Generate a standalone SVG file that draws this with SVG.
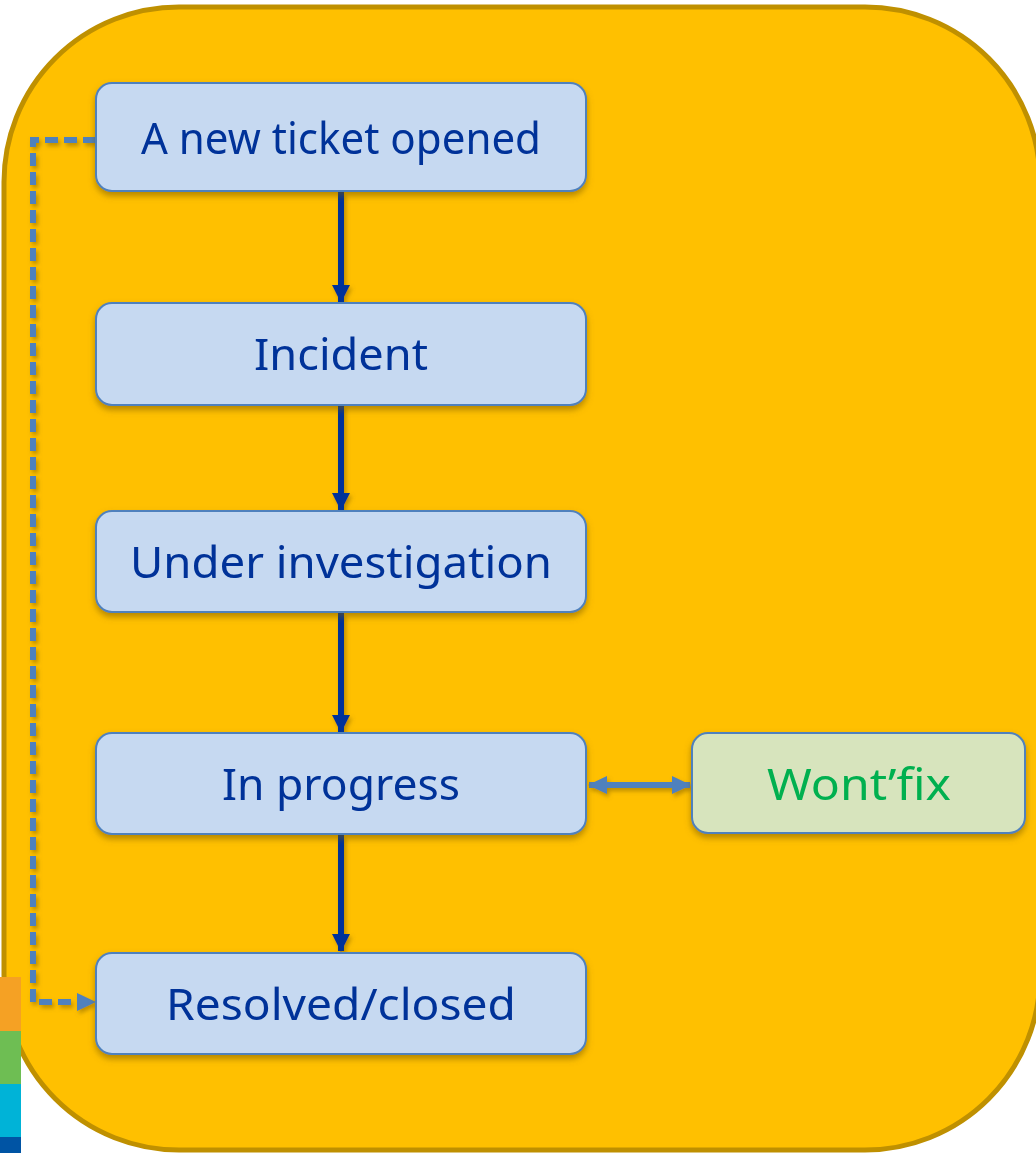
<svg xmlns="http://www.w3.org/2000/svg" width="1036" height="1153" viewBox="0 0 1036 1153">
<style>
.node{fill:#C6D9F1;stroke:#4F81BD;stroke-width:2}
.wf{fill:#D7E4BD;stroke:#4F81BD;stroke-width:2}
.lbl{font-family:"Noto Sans","Open Sans",sans-serif;font-size:43px;fill:#003399;text-anchor:middle}
.green{fill:#00B050}
.main{stroke:#003399;stroke-width:6;fill:none}
.side{stroke:#4F81BD;stroke-width:6;fill:none}
</style>
<defs>
<filter id="sh" x="-10%" y="-20%" width="120%" height="150%">
<feDropShadow dx="0" dy="4" stdDeviation="3" flood-color="#7a5a00" flood-opacity="0.55"/>
</filter>
<filter id="lsh" x="-20%" y="-20%" width="140%" height="140%">
<feDropShadow dx="2" dy="3" stdDeviation="2" flood-color="#7a5a00" flood-opacity="0.5"/>
</filter>
<marker id="ah" markerWidth="18" markerHeight="18" refX="17" refY="9" orient="auto" markerUnits="userSpaceOnUse">
<path d="M0,0 L18,9 L0,18 Z" fill="#003399"/>
</marker>
<marker id="ahs" markerWidth="19" markerHeight="18" refX="18" refY="9" orient="auto-start-reverse" markerUnits="userSpaceOnUse">
<path d="M0,0 L19,9 L0,18 Z" fill="#4F81BD"/>
</marker>
</defs>
<rect id="frame" x="4" y="7" width="1036" height="1143" rx="175" ry="175" fill="#FFC000" stroke="#BF9000" stroke-width="5"/>
<g id="connectors" filter="url(#lsh)">
<path class="main" d="M341,192 V302" marker-end="url(#ah)"/>
<path class="main" d="M341,405 V510" marker-end="url(#ah)"/>
<path class="main" d="M341,613 V732" marker-end="url(#ah)"/>
<path class="main" d="M341,835 V951" marker-end="url(#ah)"/>
<path class="side" d="M589,785 H690" marker-start="url(#ahs)" marker-end="url(#ahs)"/>
<path class="side" d="M96,140 H33 V1002 H95" stroke-dasharray="13 6" marker-end="url(#ahs)"/>
</g>
<g id="n1" filter="url(#sh)">
<rect class="node" x="96" y="83" width="490" height="108" rx="16"/>
<text class="lbl" x="341" y="154" textLength="400" lengthAdjust="spacingAndGlyphs">A new ticket opened</text>
</g>
<g id="n2" filter="url(#sh)">
<rect class="node" x="96" y="303" width="490" height="102" rx="16"/>
<text class="lbl" x="341" y="370" textLength="174" lengthAdjust="spacingAndGlyphs">Incident</text>
</g>
<g id="n3" filter="url(#sh)">
<rect class="node" x="96" y="511" width="490" height="101" rx="16"/>
<text class="lbl" x="341" y="578" textLength="422" lengthAdjust="spacingAndGlyphs">Under investigation</text>
</g>
<g id="n4" filter="url(#sh)">
<rect class="node" x="96" y="733" width="490" height="101" rx="16"/>
<text class="lbl" x="341" y="800" textLength="238" lengthAdjust="spacingAndGlyphs">In progress</text>
</g>
<g id="n5" filter="url(#sh)">
<rect class="node" x="96" y="953" width="490" height="101" rx="16"/>
<text class="lbl" x="341" y="1020" textLength="350" lengthAdjust="spacingAndGlyphs">Resolved/closed</text>
</g>
<g id="n6" filter="url(#sh)">
<rect class="wf" x="692" y="733" width="333" height="100" rx="16"/>
<text class="lbl green" x="859" y="800" textLength="184" lengthAdjust="spacingAndGlyphs">Wont’fix</text>
</g>
<g id="colorbar">
<rect x="0" y="977" width="21" height="54" fill="#F5A124"/>
<rect x="0" y="1031" width="21" height="53" fill="#6EBE53"/>
<rect x="0" y="1084" width="21" height="53" fill="#00B3D7"/>
<rect x="0" y="1137" width="21" height="16" fill="#0054A4"/>
</g>
</svg>
